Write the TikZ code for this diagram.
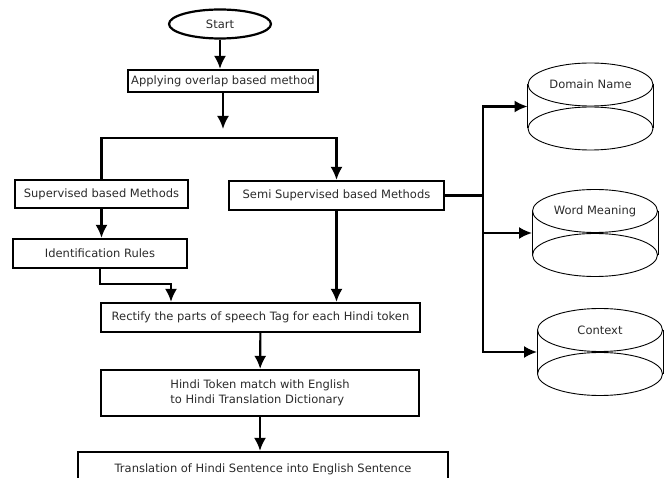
\documentclass[tikz,border=0pt]{standalone}
\usepackage{fontspec}
\setmainfont{DejaVu Sans}
\usetikzlibrary{shapes.geometric,arrows.meta,calc}
\definecolor{txt}{HTML}{2A2A2A}

\begin{document}
\begin{tikzpicture}[x=1pt,y=-1pt,
    box/.style={draw,line width=2.2pt,inner sep=0pt,text=txt,font=\fontsize{11.5}{15}\selectfont},
    flow/.style={line width=2.2pt,-{Latex[length=13pt,width=12pt]}},
    dbtop/.style={draw,ellipse,line width=0.9pt,inner sep=0pt,minimum width=125pt,minimum height=43pt,text=txt,font=\fontsize{11.5}{15}\selectfont}]
    \useasboundingbox (0,0) rectangle (665,478);
    \clip (0,0) rectangle (665,478);
    \node[box,ellipse,minimum width=102pt,minimum height=29pt] (start) at (220,24) {Start};
    \node[box,minimum width=190pt,minimum height=22pt] (apply) at (223,81) {Applying overlap based method};
    \node[box,minimum width=173pt,minimum height=28pt] (sup) at (101.5,194) {Supervised based Methods};
    \node[box,minimum width=215pt,minimum height=29pt] (semi) at (336.5,195.5) {Semi Supervised based Methods};
    \node[box,minimum width=174pt,minimum height=29pt] (ident) at (100,253.5) {Identification Rules};
    \node[box,minimum width=319pt,minimum height=29pt] (rect) at (260.5,317.5) {Rectify the parts of speech Tag for each Hindi token};
    \node[box,minimum width=318pt,minimum height=46pt,align=left] (hindi) at (260,393) {Hindi Token match with English\\to Hindi Translation Dictionary};
    \node[box,minimum width=370pt,minimum height=34pt] (trans) at (263,469) {Translation of Hindi Sentence into English Sentence};
    \foreach \n/\x/\y/\t in {dom/590.5/84.5/Domain Name, word/595/211/Word Meaning, ctx/600/330/Context}{
        \node[dbtop] (\n) at (\x,\y) {\t};
        \draw[line width=0.9pt] (\n.west) -- ++(0,44) (\n.east) -- ++(0,44);
        \draw[line width=0.9pt] (\x,\y+44) ellipse [x radius=62.5pt,y radius=21.5pt];
        \coordinate (\n-in) at ($(\n.west)+(0,22)$);
    }
    \coordinate (fork) at (223,129);
    \coordinate (split) at (223,138);
    \coordinate (join) at (171,284);
    \coordinate (bus) at (483,195.5);
    \draw[flow] (start.south) -- (start.south |- apply.north);
    \draw[flow] (apply) -- (fork);
    \draw[line width=2.2pt] (split) -| (sup.north);
    \draw[flow] (split) -| (semi.north);
    \draw[flow] (sup.south) -- (sup.south |- ident.north);
    \draw[flow] (ident.south) |- (join) -- (join |- rect.north);
    \draw[flow] (semi.south) -- (semi.south |- rect.north);
    \draw[flow] (rect) -- (hindi);
    \draw[flow] (hindi.south) -- (hindi.south |- trans.north);
    \draw[line width=2.2pt] (semi.east) -- (bus);
    \foreach \n in {dom,word,ctx}
    \draw[flow] (bus) |- (\n-in);
\end{tikzpicture}
\end{document}
